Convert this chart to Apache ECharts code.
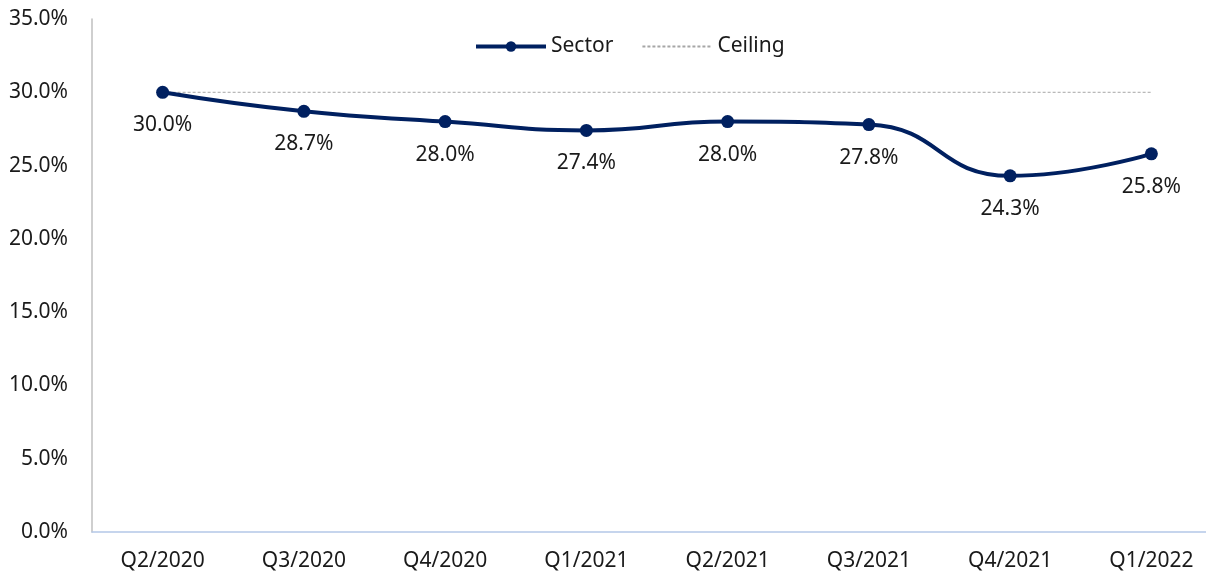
<!DOCTYPE html>
<html>
<head>
<meta charset="utf-8">
<script src="https://cdn.jsdelivr.net/npm/echarts@6/dist/echarts.min.js"></script>
<style>
  html, body { margin: 0; padding: 0; background: #fff; overflow: hidden; width: 1206px; height: 577px; }
  #main { width: 1222px; height: 577px; }
</style>
</head>
<body>
<div id="main"></div>
<script>
var quarters = ['Q2/2020', 'Q3/2020', 'Q4/2020', 'Q1/2021', 'Q2/2021', 'Q3/2021', 'Q4/2021', 'Q1/2022'];
var sector = [30.0, 28.7, 28.0, 27.4, 28.0, 27.8, 24.3, 25.8];
var ceiling = [30, 30, 30, 30, 30, 30, 30, 30];

// chart is a bit wider than the window so the last band runs off the right edge, as in the original
var chart = echarts.init(document.getElementById('main'));
var font = 'Noto Sans';

var option = {
  animation: false,
  textStyle: { fontFamily: font },
  legend: {
    top: 31,
    left: 469,
    itemWidth: 70,
    itemHeight: 13,
    itemGap: 28,
    textStyle: { fontSize: 21, color: '#1a1a1a', fontFamily: font },
    data: [
      { name: 'Sector', lineStyle: { width: 4 }, itemStyle: { borderWidth: 0 } },
      { name: 'Ceiling', itemStyle: { opacity: 0 } }
    ]
  },
  grid: { left: 92, right: 0, top: 19, bottom: 45 },
  xAxis: {
    type: 'category',
    data: quarters,
    boundaryGap: true,
    axisLine: { lineStyle: { color: '#B4C7E7', width: 1.5 } },
    axisTick: { show: false },
    axisLabel: { fontSize: 21, color: '#1a1a1a', margin: 19, fontFamily: font }
  },
  yAxis: {
    type: 'value',
    min: 0,
    max: 35,
    interval: 5,
    axisLine: { show: true, lineStyle: { color: '#BFBFBF', width: 1.5 } },
    axisTick: { show: false },
    splitLine: { show: false },
    axisLabel: {
      fontSize: 21, color: '#1a1a1a', margin: 24, fontFamily: font,
      formatter: function (v) { return v.toFixed(1) + '%'; }
    }
  },
  series: [
    {
      name: 'Ceiling',
      type: 'line',
      data: ceiling,
      symbol: 'none',
      lineStyle: { color: '#A6A6A6', width: 1, type: [3, 2] },
      itemStyle: { color: '#A6A6A6' },
      z: 1
    },
    {
      name: 'Sector',
      type: 'line',
      data: sector,
      smooth: 0.5,
      symbol: 'circle',
      symbolSize: 13,
      lineStyle: { color: '#002060', width: 4 },
      itemStyle: { color: '#002060' },
      label: {
        show: true,
        position: 'bottom',
        distance: 16,
        fontSize: 21,
        color: '#1a1a1a',
        fontFamily: font,
        formatter: function (p) { return p.value.toFixed(1) + '%'; }
      },
      z: 3
    }
  ]
};
chart.setOption(option);
</script>
</body>
</html>
